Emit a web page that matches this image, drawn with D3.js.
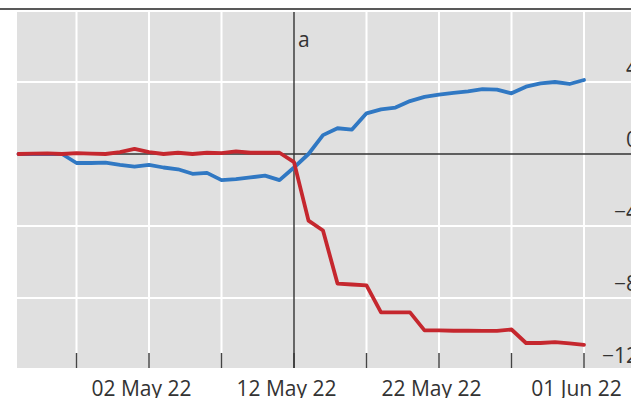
<!DOCTYPE html>
<html>
<head>
<meta charset="utf-8">
<script src="https://cdn.jsdelivr.net/npm/d3@7"></script>
<style>
  html, body { margin: 0; padding: 0; background: #ffffff; }
  svg { display: block; }
  text { font-family: "Open Sans", "Noto Sans", sans-serif; fill: #333333; }
</style>
</head>
<body>
<svg id="chart" width="631" height="398"></svg>
<script>
// Daily observations, 23 Apr 2022 – 01 Jun 2022
const startDate = "2022-04-23";
const endDate = "2022-06-01";

// Series values (per cent)
const blueValues = [
  0, 0, 0, 0, -0.5, -0.5, -0.48, -0.6, -0.7, -0.6,
  -0.75, -0.85, -1.1, -1.05, -1.45, -1.4, -1.3, -1.2, -1.45, -0.75,
  0.0, 1.05, 1.43, 1.36, 2.26, 2.48, 2.58, 2.94, 3.17, 3.3,
  3.39, 3.48, 3.6, 3.58, 3.37, 3.74, 3.92, 4.0, 3.89, 4.11
];
const redValues = [
  0, 0.02, 0.03, 0, 0.05, 0.02, 0, 0.1, 0.28, 0.1,
  0, 0.07, 0, 0.07, 0.05, 0.15, 0.07, 0.07, 0.07, -0.45,
  -3.7, -4.25, -7.2, -7.25, -7.3, -8.8, -8.8, -8.8, -9.8, -9.8,
  -9.82, -9.82, -9.83, -9.83, -9.75, -10.5, -10.5, -10.45, -10.52, -10.6
];

// Axis ticks
const xTickDates = ["2022-04-27", "2022-05-02", "2022-05-07", "2022-05-12",
                    "2022-05-17", "2022-05-22", "2022-05-27", "2022-06-01"];
const xLabelDates = ["2022-05-02", "2022-05-12", "2022-05-22", "2022-06-01"];
const yTicks = [4, 0, -4, -8, -12];
const markerDate = "2022-05-12";
const panelLabel = "a";

const parse = d3.utcParse("%Y-%m-%d");
const dates = d3.utcDay.range(parse(startDate), d3.utcDay.offset(parse(endDate), 1));

const svg = d3.select("#chart");
const W = 631, H = 398;
const plot = { left: 17, right: 631, top: 12, bottom: 368 };

const x = d3.scaleUtc()
  .domain([parse(startDate), parse(endDate)])
  .range([18.5, 584]);
const y = d3.scaleLinear().domain([-12, 8]).range([370, 10]);

// Title rule
svg.append("line")
  .attr("x1", 0).attr("x2", W).attr("y1", 9).attr("y2", 9)
  .attr("stroke", "#222").attr("stroke-width", 1.6);

// Plot background
svg.append("rect")
  .attr("x", plot.left).attr("y", plot.top)
  .attr("width", plot.right - plot.left).attr("height", plot.bottom - plot.top)
  .attr("fill", "#e0e0e0");

const grid = svg.append("g");
// Horizontal grid
grid.selectAll("line.h").data(yTicks.filter(v => v !== 0 && y(v) > plot.top && y(v) < plot.bottom))
  .join("line").attr("class", "h")
  .attr("x1", plot.left).attr("x2", plot.right)
  .attr("y1", d => y(d)).attr("y2", d => y(d))
  .attr("stroke", "#ffffff").attr("stroke-width", 2);
// Vertical grid
grid.selectAll("line.v").data(xTickDates.filter(d => d !== markerDate).map(parse))
  .join("line").attr("class", "v")
  .attr("x1", d => x(d)).attr("x2", d => x(d))
  .attr("y1", plot.top).attr("y2", plot.bottom)
  .attr("stroke", "#ffffff").attr("stroke-width", 2);

// Tick marks along the bottom edge
grid.selectAll("line.t").data(xTickDates.map(parse))
  .join("line").attr("class", "t")
  .attr("x1", d => x(d)).attr("x2", d => x(d))
  .attr("y1", plot.bottom - 15).attr("y2", plot.bottom)
  .attr("stroke", "#444").attr("stroke-width", 1.5);

// Zero line and event marker
svg.append("line")
  .attr("x1", plot.left).attr("x2", plot.right)
  .attr("y1", y(0)).attr("y2", y(0))
  .attr("stroke", "#333").attr("stroke-width", 1.4);
svg.append("line")
  .attr("x1", x(parse(markerDate))).attr("x2", x(parse(markerDate)))
  .attr("y1", plot.top).attr("y2", plot.bottom)
  .attr("stroke", "#333").attr("stroke-width", 1.4);

svg.append("text")
  .attr("x", x(parse(markerDate)) + 4).attr("y", 47)
  .attr("font-size", 21)
  .text(panelLabel);

// Series
const line = d3.line().x((d, i) => x(dates[i])).y(d => y(d));
svg.append("path").datum(blueValues)
  .attr("d", line).attr("fill", "none")
  .attr("stroke", "#3078c3").attr("stroke-width", 3.8)
  .attr("stroke-linejoin", "round").attr("stroke-linecap", "round");
svg.append("path").datum(redValues)
  .attr("d", line).attr("fill", "none")
  .attr("stroke", "#c5272e").attr("stroke-width", 3.8)
  .attr("stroke-linejoin", "round").attr("stroke-linecap", "round");

// Right-hand axis labels, sitting just above their grid lines
const fmtY = d => d < 0 ? "\u2212" + Math.abs(d) : String(d);
svg.selectAll("text.y").data(yTicks)
  .join("text").attr("class", "y")
  .attr("x", 638).attr("y", d => y(d) - 7)
  .attr("text-anchor", "end")
  .attr("font-size", 21)
  .text(fmtY);

// Bottom date labels
const fmtX = d3.utcFormat("%d %b %y");
svg.selectAll("text.x").data(xLabelDates.map(parse))
  .join("text").attr("class", "x")
  .attr("x", d => x(d) - 7.5).attr("y", 396)
  .attr("text-anchor", "middle")
  .attr("font-size", 21)
  .text(fmtX);
</script>
</body>
</html>
